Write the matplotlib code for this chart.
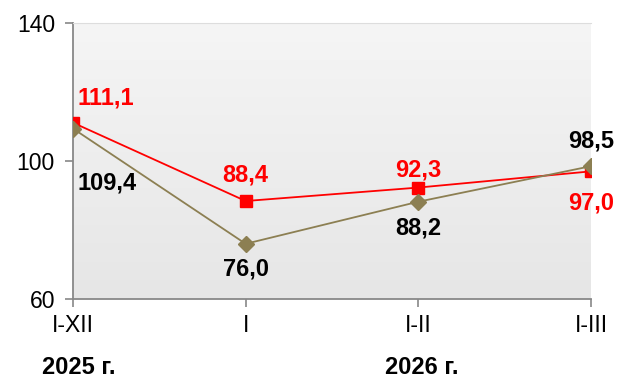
import matplotlib.pyplot as plt
import numpy as np
from matplotlib.colors import LinearSegmentedColormap

plt.rcParams["font.family"] = ["Liberation Sans", "DejaVu Sans"]

categories = ["I-XII", "I", "I-II", "I-III"]
red_vals = [111.1, 88.4, 92.3, 97.0]
olive_vals = [109.4, 76.0, 88.2, 98.5]
red_labels = ["111,1", "88,4", "92,3", "97,0"]
olive_labels = ["109,4", "76,0", "88,2", "98,5"]
years = ["2025 г.", "2026 г."]

red = "#ff0000"
olive = "#8c7f52"

fig = plt.figure(figsize=(6.18, 3.82), dpi=100)
ax = fig.add_axes([73 / 618, 1 - 299 / 382, 518 / 618, 276 / 382])

x = np.arange(len(categories))

# gradient background
grad = np.linspace(0, 1, 256).reshape(-1, 1)
bg = LinearSegmentedColormap.from_list("bg", ["#f5f5f5", "#e6e6e6"])
ax.imshow(grad, extent=[0, 3, 60, 140], aspect="auto", cmap=bg, origin="upper", zorder=0)

ax.plot(x, red_vals, color=red, lw=1.3, marker="s", ms=8, zorder=3)
ax.plot(x, olive_vals, color=olive, lw=1.3, marker="D", ms=8, zorder=3)

ax.set_xlim(0, 3)
ax.set_ylim(60, 140)
ax.set_yticks([60, 100, 140])
ax.set_xticks(x)
ax.set_xticklabels(categories)
ax.tick_params(axis="both", labelsize=16.5, color="#888888", length=6, width=1.2, direction="out")
ax.tick_params(axis="x", pad=5)
ax.tick_params(axis="y", pad=7)

for s in ["left", "bottom"]:
    ax.spines[s].set_color("#888888")
    ax.spines[s].set_linewidth(1.3)
ax.spines["right"].set_visible(False)
ax.spines["top"].set_color("#dddddd")

# offsets in points for the data labels
red_off = [(3, 18, "left"), (0, 19, "center"), (0, 13, "center"), (0, -23, "center")]
olive_off = [(3, -39, "left"), (0, -18, "center"), (0, -19, "center"), (0, 18, "center")]

for i in range(len(categories)):
    dx, dy, ha = red_off[i]
    ax.annotate(red_labels[i], (x[i], red_vals[i]), xytext=(dx, dy), textcoords="offset points",
                ha=ha, va="center", color=red, fontsize=17, fontweight="bold", annotation_clip=False)
    dx, dy, ha = olive_off[i]
    ax.annotate(olive_labels[i], (x[i], olive_vals[i]), xytext=(dx, dy), textcoords="offset points",
                ha=ha, va="center", color="black", fontsize=17, fontweight="bold", annotation_clip=False)

fig.text(79 / 618, 1 - 367 / 382, years[0], ha="center", va="center", fontsize=17, fontweight="bold")
fig.text(422 / 618, 1 - 367 / 382, years[1], ha="center", va="center", fontsize=17, fontweight="bold")

fig.savefig("out.png", dpi=100)
